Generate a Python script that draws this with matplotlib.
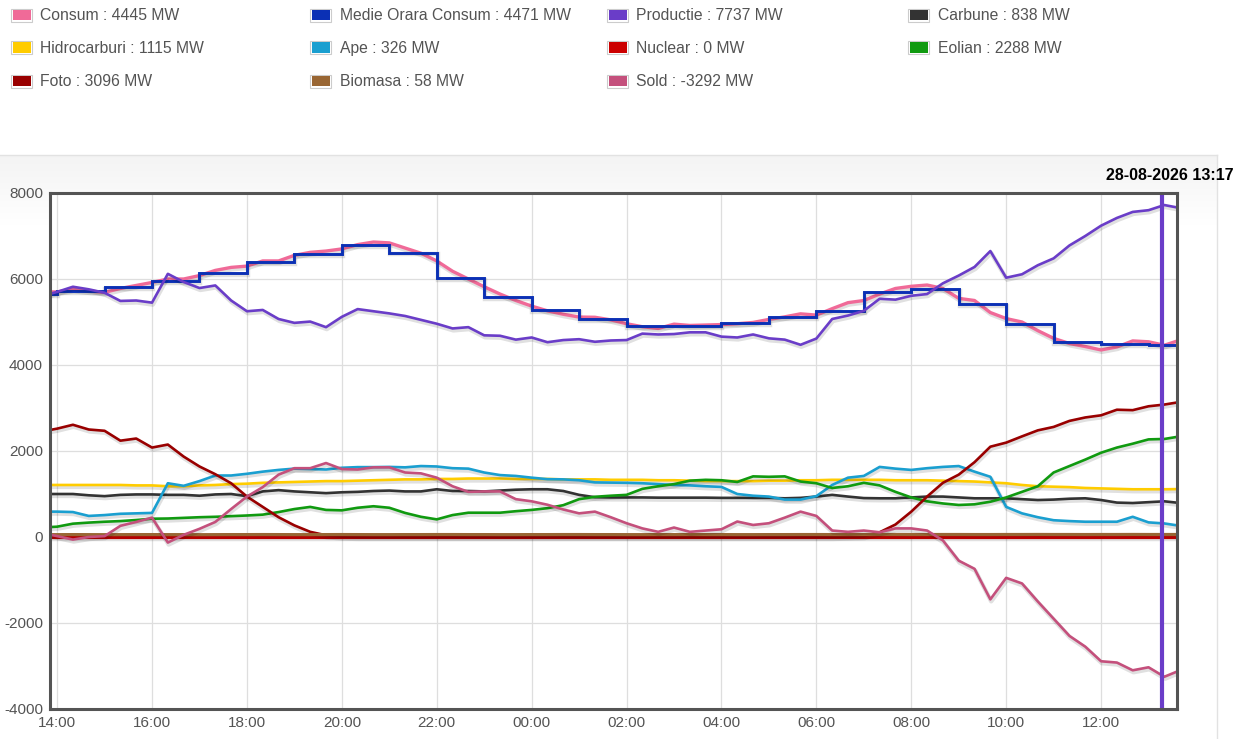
import matplotlib
matplotlib.use("Agg")
import matplotlib.pyplot as plt
import matplotlib.dates as mdates
import matplotlib.patheffects as pe
from matplotlib.patches import Rectangle
import numpy as np
import pandas as pd

plt.rcParams['font.family'] = ['Liberation Sans', 'DejaVu Sans']
plt.rcParams['axes.unicode_minus'] = False

# ---------------- data (MW) ----------------
# 20-minute samples from 27-08-2026 13:40 to 28-08-2026 13:40
start_time = '2026-08-27 13:40'
n_points = 73
# hourly average starts 27-08 13:00 .. 28-08 14:00
hourly_start = '2026-08-27 13:00'
cursor_time = '2026-08-28 13:17'
cursor_label = '28-08-2026 13:17'

consum = [5700,
          5700, 5760, 5720, 5690, 5780, 5850, 5920, 6000, 6000,
          6080, 6200, 6270, 6300, 6420, 6420, 6550, 6620, 6650,
          6700, 6800, 6860, 6840, 6720, 6600, 6420, 6180, 6000,
          5820, 5650, 5500, 5370, 5260, 5180, 5115, 5110, 5050,
          4960, 4890, 4850, 4950, 4920, 4930, 4940, 4960, 4990,
          5060, 5120, 5190, 5160, 5310, 5450, 5500, 5650, 5780,
          5830, 5860, 5780, 5550, 5500, 5220, 5080, 5000, 4800,
          4620, 4500, 4430, 4350, 4420, 4560, 4540, 4460, 4580]

medie_orara = [5650, 5730, 5810, 5945, 6140, 6400, 6590, 6790, 6615,
               6015, 5590, 5285, 5077, 4908, 4908, 4977, 5108, 5262,
               5692, 5770, 5425, 4950, 4545, 4480, 4471, 4471]

productie = [5600,
             5700, 5820, 5760, 5680, 5490, 5500, 5450, 6120, 5930,
             5790, 5850, 5500, 5250, 5280, 5070, 4980, 5010, 4880,
             5120, 5300, 5250, 5200, 5140, 5050, 4960, 4850, 4880,
             4690, 4680, 4590, 4640, 4530, 4580, 4600, 4540, 4570,
             4580, 4730, 4710, 4720, 4760, 4760, 4660, 4640, 4710,
             4620, 4590, 4470, 4615, 5070, 5150, 5260, 5540, 5520,
             5610, 5650, 5900, 6080, 6280, 6650, 6030, 6110, 6320,
             6480, 6780, 7000, 7240, 7420, 7560, 7600, 7720, 7650]

carbune = [1000,
           1000, 1000, 970, 950, 980, 990, 990, 980, 980,
           960, 990, 1000, 950, 1060, 1090, 1060, 1040, 1020,
           1040, 1050, 1070, 1080, 1060, 1060, 1110, 1070, 1070,
           1060, 1080, 1100, 1110, 1110, 1070, 980, 925, 920,
           920, 920, 915, 915, 915, 915, 910, 910, 910,
           910, 900, 910, 940, 980, 940, 905, 900, 900,
           920, 940, 940, 920, 900, 900, 900, 880, 860,
           870, 890, 900, 860, 800, 790, 810, 830, 790]

hidrocarburi = [1210,
                1210, 1210, 1210, 1210, 1210, 1200, 1200, 1180, 1180,
                1200, 1210, 1230, 1240, 1260, 1270, 1280, 1290, 1300,
                1300, 1310, 1320, 1330, 1340, 1340, 1350, 1350, 1360,
                1360, 1360, 1350, 1350, 1350, 1340, 1340, 1340, 1330,
                1330, 1330, 1320, 1320, 1310, 1300, 1300, 1300, 1300,
                1310, 1310, 1320, 1320, 1330, 1330, 1330, 1330, 1320,
                1320, 1320, 1310, 1300, 1290, 1270, 1250, 1210, 1180,
                1170, 1160, 1140, 1130, 1120, 1110, 1110, 1110, 1115]

ape = [590,
       590, 580, 490, 510, 540, 550, 560, 1250, 1190,
       1300, 1430, 1430, 1470, 1520, 1560, 1590, 1580, 1570,
       1610, 1625, 1625, 1630, 1620, 1650, 1640, 1600, 1590,
       1500, 1440, 1420, 1380, 1345, 1340, 1320, 1270, 1265,
       1260, 1250, 1230, 1210, 1200, 1180, 1165, 1000, 960,
       940, 870, 870, 950, 1210, 1380, 1420, 1630, 1590,
       1560, 1600, 1630, 1650, 1520, 1400, 700, 550, 460,
       390, 370, 355, 355, 355, 470, 340, 315, 260]

nuclear = [0,
           0, 0, 0, 0, 0, 0, 0, 0, 0, 0, 0, 0,
           0, 0, 0, 0, 0, 0, 0, 0, 0, 0, 0, 0,
           0, 0, 0, 0, 0, 0, 0, 0, 0, 0, 0, 0,
           0, 0, 0, 0, 0, 0, 0, 0, 0, 0, 0, 0,
           0, 0, 0, 0, 0, 0, 0, 0, 0, 0, 0, 0,
           0, 0, 0, 0, 0, 0, 0, 0, 0, 0, 0, 0]

eolian = [220,
          240, 310, 335, 355, 370, 395, 425, 430, 445,
          460, 470, 485, 500, 520, 580, 650, 700, 630,
          620, 680, 715, 680, 560, 470, 410, 510, 565,
          565, 565, 600, 630, 670, 740, 880, 935, 960,
          980, 1120, 1180, 1230, 1310, 1330, 1320, 1280, 1410,
          1400, 1410, 1290, 1250, 1140, 1180, 1260, 1200, 1050,
          920, 830, 780, 745, 760, 820, 920, 1050, 1180,
          1500, 1650, 1800, 1960, 2080, 2170, 2270, 2280, 2340]

foto = [2450,
        2520, 2610, 2500, 2470, 2240, 2290, 2080, 2150, 1870,
        1640, 1460, 1250, 940, 700, 460, 270, 120, 40,
        10, 0, 0, 0, 0, 0, 0, 0, 0,
        0, 0, 0, 0, 0, 0, 0, 0, 0,
        0, 0, 0, 0, 0, 0, 0, 0, 0,
        0, 0, 0, 0, 0, 10, 20, 110, 290,
        590, 940, 1260, 1450, 1740, 2100, 2195, 2340, 2480,
        2560, 2700, 2780, 2830, 2960, 2950, 3040, 3080, 3140]

biomasa = [55,
           55, 56, 55, 54, 55, 56, 56, 55, 55,
           54, 55, 56, 56, 57, 56, 55, 55, 56,
           57, 56, 55, 55, 56, 56, 57, 57, 56,
           56, 55, 55, 56, 56, 57, 57, 56, 56,
           55, 55, 56, 56, 57, 56, 56, 55, 55,
           56, 56, 57, 57, 56, 56, 57, 58, 58,
           57, 57, 58, 58, 57, 57, 58, 58, 59,
           58, 58, 57, 58, 58, 59, 58, 58, 58]

sold = [100,
        20, -60, 0, 20, 260, 350, 450, -130, 50,
        190, 350, 650, 940, 1160, 1450, 1600, 1600, 1720,
        1580, 1570, 1620, 1620, 1500, 1480, 1380, 1180, 1050,
        1060, 1060, 880, 830, 750, 640, 550, 590, 460,
        320, 200, 120, 220, 120, 150, 180, 360, 280,
        320, 450, 590, 490, 150, 120, 150, 110, 200,
        200, 150, -80, -550, -740, -1450, -950, -1080, -1500,
        -1900, -2300, -2550, -2890, -2920, -3100, -3030, -3250, -3100]

legend_names = ['Consum', 'Medie Orara Consum', 'Productie', 'Carbune',
                'Hidrocarburi', 'Ape', 'Nuclear', 'Eolian',
                'Foto', 'Biomasa', 'Sold']
legend_values = [4445, 4471, 7737, 838, 1115, 326, 0, 2288, 3096, 58, -3292]
colors = ['#f06a98', '#0b30b5', '#6a3dc8', '#333333',
          '#ffcc00', '#1a9fd0', '#cc0000', '#109a10',
          '#990000', '#996633', '#c4507c']

y_ticks = [-4000, -2000, 0, 2000, 4000, 6000, 8000]

# ---------------- figure ----------------
W, H = 1235, 739
fig = plt.figure(figsize=(W / 100, H / 100), dpi=100)
fig.patch.set_facecolor('white')

# background panel with light gradient on top
bg = fig.add_axes([0, 0, 1217 / W, 584 / H], zorder=0)
rows = 584
d = np.arange(rows)
shade = 0.955 + 0.045 * np.clip(d / 70.0, 0, 1)
img = np.repeat(shade[:, None, None], 3, axis=2)
bg.imshow(img, aspect='auto', extent=[0, 1, 0, 1], interpolation='bilinear')
bg.set_xlim(0, 1)
bg.set_ylim(0, 1)
bg.set_xticks([])
bg.set_yticks([])
for s in ['left', 'bottom']:
    bg.spines[s].set_visible(False)
for s in ['top', 'right']:
    bg.spines[s].set_color('#e2e2e2')
    bg.spines[s].set_linewidth(1.0)

ax = fig.add_axes([50 / W, 30 / H, 1127 / W, 516 / H], zorder=1)
ax.set_facecolor('white')

times = pd.date_range(start_time, periods=n_points, freq='20min')
hours = pd.date_range(hourly_start, periods=len(medie_orara), freq='h')

series = [consum, None, productie, carbune, hidrocarburi, ape, nuclear,
          eolian, foto, biomasa, sold]

shadow = [pe.SimpleLineShadow(offset=(0.6, -1.4), shadow_color='black',
                              alpha=0.12, linewidth=3.2), pe.Normal()]

for i, (name, vals) in enumerate(zip(legend_names, series)):
    if name == 'Medie Orara Consum':
        ax.plot(hours, medie_orara, drawstyle='steps-post', color=colors[i],
                lw=2.1, zorder=3 + i, path_effects=shadow, solid_joinstyle='miter')
    else:
        if name == 'Consum':
            lw = 2.4
        elif name in ('Nuclear', 'Biomasa'):
            lw = 2.3
        else:
            lw = 1.9
        ax.plot(times, vals, color=colors[i], lw=lw, zorder=3 + i,
                path_effects=shadow, solid_joinstyle='round')

ax.axvline(pd.Timestamp(cursor_time), color='#6a3dc8', lw=3.0, zorder=20)

ax.set_xlim(pd.Timestamp('2026-08-27 13:51'), pd.Timestamp('2026-08-28 13:36'))
ax.set_ylim(-4000, 8000)
ax.set_yticks(y_ticks)
ax.set_yticklabels([str(v) for v in y_ticks])
ax.xaxis.set_major_locator(mdates.HourLocator(byhour=range(0, 24, 2)))
ax.xaxis.set_major_formatter(mdates.DateFormatter('%H:%M'))
ax.tick_params(length=0, labelsize=11, labelcolor='#545454')
ax.tick_params(axis='y', pad=5)
ax.tick_params(axis='x', pad=5)
ax.grid(True, color='#dedede', lw=0.9)
ax.set_axisbelow(True)
for s in ax.spines.values():
    s.set_color('#545454')
    s.set_linewidth(2.2)
    s.set_zorder(25)

fig.text(1170 / W, 1 - 176 / H, cursor_label, ha='center', va='center',
         fontsize=11.5, fontweight='bold', color='black')

# legend (manual, 4 columns x 3 rows)
col_x = [11, 310, 607, 908]
row_y = [15, 47.5, 81]
for i, (name, val) in enumerate(zip(legend_names, legend_values)):
    cx = col_x[i % 4]
    cy = row_y[i // 4]
    fig.add_artist(Rectangle((cx / W, 1 - (cy + 6.5) / H), 21 / W, 13 / H,
                             transform=fig.transFigure, facecolor='white',
                             edgecolor='#cccccc', lw=0.8))
    fig.add_artist(Rectangle(((cx + 1.5) / W, 1 - (cy + 5) / H), 18 / W, 10 / H,
                             transform=fig.transFigure, facecolor=colors[i],
                             edgecolor='none'))
    fig.text((cx + 29.5) / W, 1 - (cy + 1) / H, f'{name} : {val} MW',
             ha='left', va='center', fontsize=11.3, color='#545454')

fig.savefig('out.png', dpi=100)
